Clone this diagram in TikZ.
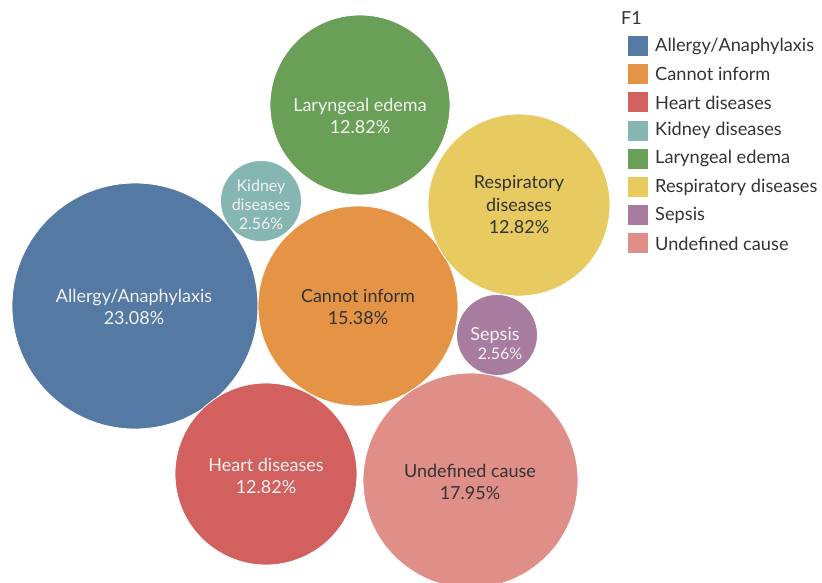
\documentclass[tikz,border=0pt]{standalone}
\usepackage{fontspec}
\setmainfont{Lato}
\definecolor{cblue}{HTML}{5479A3}
\definecolor{corange}{HTML}{E49444}
\definecolor{cred}{HTML}{D1605E}
\definecolor{cteal}{HTML}{85B6B2}
\definecolor{cgreen}{HTML}{6A9F58}
\definecolor{cyellow}{HTML}{E7CA60}
\definecolor{cpurple}{HTML}{A87C9F}
\definecolor{cpink}{HTML}{DF8F87}
\definecolor{light}{HTML}{F2F2F2}
\definecolor{dark}{HTML}{333333}
\begin{document}
\begin{tikzpicture}[x=1pt,y=-1pt,
  bubble/.style={circle,draw=white,line width=0.8pt,inner sep=0pt},
  lbl/.style={align=center,font=\fontsize{18}{22.5}\selectfont},
  slbl/.style={align=center,font=\fontsize{16}{19}\selectfont},
  sw/.style={minimum width=20pt,minimum height=20pt,inner sep=0pt},
  legtxt/.style={anchor=west,text=dark,font=\fontsize{18.2}{20}\selectfont,inner sep=0pt}]
\useasboundingbox (0,0) rectangle (822,583);
\begin{scope}
\clip (0,0) rectangle (822,583);
\node[bubble,fill=cblue,minimum size=246pt] (allergy) at (135,306) {};
\node[bubble,fill=corange,minimum size=200pt] (cannot) at (358,306) {};
\node[bubble,fill=cgreen,minimum size=180pt] (laryn) at (360,105) {};
\node[bubble,fill=cyellow,minimum size=182pt] (resp) at (519,205) {};
\node[bubble,fill=cteal,minimum size=81pt] (kidney) at (261,201) {};
\node[bubble,fill=cpurple,minimum size=81pt] (sepsis) at (497,335) {};
\node[bubble,fill=cred,minimum size=182pt] (heart) at (266,474) {};
\node[bubble,fill=cpink,minimum size=215pt] (undef) at (470.5,480.5) {};
\end{scope}
\node[lbl,text=light] at (134,307) {Allergy/Anaphylaxis\\23.08\%};
\node[lbl,text=dark] at (358,307) {Cannot inform\\15.38\%};
\node[lbl,text=light] at (360,116) {Laryngeal edema\\12.82\%};
\node[lbl,text=dark] at (519,205) {Respiratory\\diseases\\12.82\%};
\node[slbl,text=light] at (261,205) {Kidney\\diseases\\2.56\%};
\node[text=light,font=\fontsize{18}{20}\selectfont,inner sep=0pt] (seplbl) at (495,335) {Sepsis};
\node[text=light,font=\fontsize{16}{19}\selectfont,inner sep=0pt] (seppct) at (500,354) {2.56\%};
\node[lbl,text=light] at (266,476) {Heart diseases\\12.82\%};
\node[lbl,text=dark] at (470,482) {Undefined cause\\17.95\%};
% legend
\node[anchor=west,text=dark,font=\fontsize{18}{20}\selectfont,inner sep=0pt] (f1) at (621,18) {F1};
\foreach \c/\t [count=\i] in {cblue/Allergy\slash Anaphylaxis,corange/Cannot inform,cred/Heart diseases,cteal/Kidney diseases,cgreen/Laryngeal edema,cyellow/Respiratory diseases,cpurple/Sepsis,cpink/Undefined cause}{
  \node[sw,fill=\c] (s\i) at (638,{46+28.2*(\i-1)}) {};
  \node[legtxt] (t\i) at (655,{46+28.2*(\i-1)}) {\t};
}
\end{tikzpicture}
\end{document}
